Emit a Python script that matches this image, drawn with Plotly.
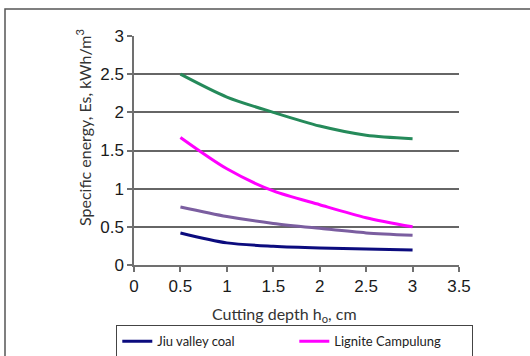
import plotly.graph_objects as go

depth = [0.5, 1.0, 1.5, 2.0, 2.5, 3.0]
jiu_valley_coal = [0.42, 0.29, 0.245, 0.222, 0.21, 0.195]
lignite_campulung = [1.67, 1.26, 0.97, 0.79, 0.62, 0.50]
dej_rocksalt = [2.50, 2.20, 2.00, 1.82, 1.70, 1.655]
lignite_motru = [0.76, 0.635, 0.545, 0.48, 0.42, 0.39]

x_ticks = [0, 0.5, 1, 1.5, 2, 2.5, 3, 3.5]
x_ticklabels = ["0", "0.5", "1", "1.5", "2", "2.5", "3", "3.5"]
y_ticks = [0, 0.5, 1, 1.5, 2, 2.5, 3]
y_ticklabels = ["0", "0.5", "1", "1.5", "2", "2.5", "3"]

series = [
    ("Jiu valley coal", jiu_valley_coal, "#0B0B7E"),
    ("Lignite Campulung", lignite_campulung, "#FF00FF"),
    ("Dej rocksalt", dej_rocksalt, "#258A5A"),
    ("Lignite Motru", lignite_motru, "#7B5EA0"),
]

W, H = 530, 356
L, R, T, B = 134, 71, 36, 91
pw, ph = W - L - R, H - T - B

def px_x(p):
    return (p - L) / pw

def px_y(p):
    return (H - B - p) / ph

fig = go.Figure()
for name, vals, col in series:
    fig.add_trace(go.Scatter(
        x=depth, y=vals, name=name, mode="lines",
        line=dict(color=col, width=3, shape="spline", smoothing=0.8),
    ))

tick_font = dict(family="Liberation Sans, Arial", size=17, color="#1a1a1a")
title_font = dict(family="Lato, Carlito, Calibri, sans-serif", size=16, color="#333333")

fig.update_layout(
    width=W, height=H,
    margin=dict(l=L, r=R, t=T, b=B, autoexpand=False),
    paper_bgcolor="white", plot_bgcolor="white",
    showlegend=True,
    legend=dict(
        orientation="h", x=px_x(116), y=px_y(325), xanchor="left", yanchor="top",
        entrywidth=132, entrywidthmode="pixels",
        bordercolor="#444444", borderwidth=1.3,
        font=dict(family="Lato, Carlito, Calibri, sans-serif", size=13, color="#222222"),
        tracegroupgap=0, itemwidth=30,
    ),
    xaxis=dict(
        range=[0, 3.5], tickvals=x_ticks, ticktext=x_ticklabels,
        showgrid=False, zeroline=False,
        showline=True, linecolor="#707070", linewidth=1.5,
        ticks="outside", ticklen=5, tickcolor="#707070", tickwidth=1.5,
        tickfont=tick_font,
    ),
    yaxis=dict(
        range=[0, 3], tickvals=y_ticks, ticktext=y_ticklabels,
        showgrid=True, gridcolor="#666666", gridwidth=1.5, zeroline=False,
        showline=True, linecolor="#707070", linewidth=1.5,
        ticks="outside", ticklen=5, tickcolor="#707070", tickwidth=1.5,
        tickfont=tick_font,
    ),
    annotations=[
        dict(text="Specific energy, Es, kWh/m<sup>3</sup>", textangle=-90,
             xref="paper", yref="paper", x=px_x(83), y=px_y(128),
             xanchor="center", yanchor="middle", showarrow=False, font=title_font),
        dict(text="Cutting depth h<sub>o</sub>, cm",
             xref="paper", yref="paper", x=px_x(284), y=px_y(314),
             xanchor="center", yanchor="middle", showarrow=False, font=title_font),
    ],
    shapes=[
        dict(type="rect", xref="paper", yref="paper",
             x0=px_x(5), x1=px_x(560), y0=px_y(9), y1=px_y(400),
             line=dict(color="#555555", width=1.5), fillcolor="rgba(0,0,0,0)", layer="below"),
    ],
)

# remove the page's default 8px body margin so the figure sits at the window's corner
fig.write_html("out.html", config={"displayModeBar": False},
               post_script="document.body.style.margin='0';")
